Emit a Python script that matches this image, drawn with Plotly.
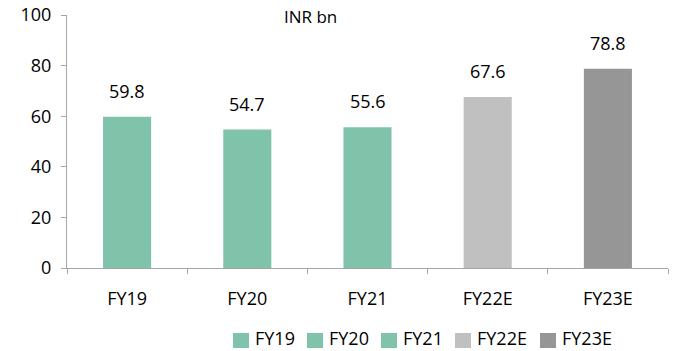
import plotly.graph_objects as go

# Revenue by fiscal year (INR bn)
categories = ["FY19", "FY20", "FY21", "FY22E", "FY23E"]
values = [59.8, 54.7, 55.6, 67.6, 78.8]
colors = ["#7FC3AA", "#7FC3AA", "#7FC3AA", "#C0C0C0", "#969696"]
y_ticks = [0, 20, 40, 60, 80, 100]

FONT = "Open Sans"
AXIS_COLOR = "#A6A6A6"
W, H = 674, 351
M = dict(l=67, r=6, t=15, b=83)
PLOT_W = W - M["l"] - M["r"]
PLOT_H = H - M["t"] - M["b"]


def px_to_paper(px, py):
    """Convert page pixels (top-left origin) to paper coordinates."""
    return (px - M["l"]) / PLOT_W, (H - M["b"] - py) / PLOT_H


fig = go.Figure()
for cat, val, col in zip(categories, values, colors):
    fig.add_trace(go.Bar(
        x=[cat], y=[val], name=cat, width=0.4,
        marker=dict(color=col, line=dict(width=0)),
        hoverinfo="skip", showlegend=False,
    ))
    fig.add_annotation(
        x=cat, y=val, text=f"{val:.1f}", showarrow=False,
        yanchor="bottom", yshift=12,
        font=dict(family=FONT, size=18, color="#000000"),
    )

fig.add_annotation(
    x=0.405, y=1.0, xref="paper", yref="paper", text="INR bn",
    showarrow=False, xanchor="center", yanchor="middle", yshift=-1,
    font=dict(family=FONT, size=17, color="#000000"),
)

# Legend row below the axis: square swatch followed by its label
lx = 233
for cat, col in zip(categories, colors):
    x0, y0 = px_to_paper(lx, 348)
    x1, y1 = px_to_paper(lx + 16, 333)
    fig.add_shape(type="rect", xref="paper", yref="paper",
                  x0=x0, x1=x1, y0=y0, y1=y1,
                  fillcolor=col, line=dict(width=0))
    tx, ty = px_to_paper(lx + 20, 338)
    fig.add_annotation(
        x=tx, y=ty, xref="paper", yref="paper", text=cat,
        showarrow=False, xanchor="left", yanchor="middle",
        font=dict(family=FONT, size=18, color="#000000"),
    )
    lx += 20 + 11 * len(cat) + 10

fig.update_layout(
    width=W, height=H,
    margin=dict(**M, autoexpand=False),
    paper_bgcolor="white", plot_bgcolor="white",
    barmode="overlay",
    showlegend=False,
    font=dict(family=FONT, size=18, color="#000000"),
)

fig.update_xaxes(
    categoryorder="array", categoryarray=categories,
    showline=True, linecolor=AXIS_COLOR, linewidth=1,
    ticks="outside", tickson="boundaries", ticklen=5, tickcolor=AXIS_COLOR,
    ticklabelstandoff=14, automargin=False,
    tickfont=dict(family=FONT, size=18, color="#000000"),
    showgrid=False, zeroline=False,
)
fig.update_yaxes(
    range=[0, 100], tickvals=y_ticks, autorange=False,
    showline=True, linecolor=AXIS_COLOR, linewidth=1,
    ticks="outside", ticklen=5, tickcolor=AXIS_COLOR,
    ticklabelstandoff=6, automargin=False,
    tickfont=dict(family=FONT, size=18, color="#000000"),
    showgrid=False, zeroline=False,
)

fig.write_html("out.html")
